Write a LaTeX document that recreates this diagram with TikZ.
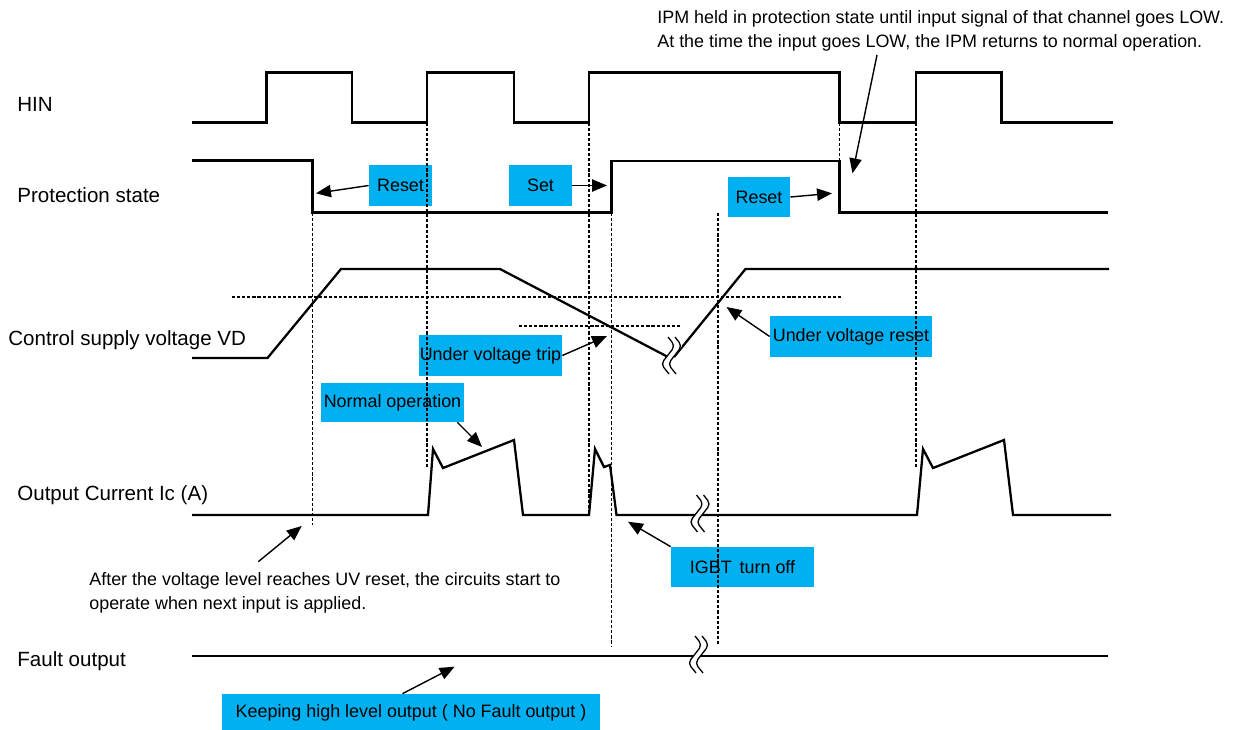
\documentclass[tikz,border=0pt]{standalone}
\usepackage{fontspec}
\setmainfont{Liberation Sans}
\usetikzlibrary{arrows.meta,calc}
\definecolor{cyanbox}{HTML}{00B0F0}
\newcommand\breakmark[2]{%
  \begin{scope}[shift={(#1,#2)}]
    \fill[white] (0,-20) -- (7,-11) -- (-7,7) -- (1,17) -- (8,17) -- (0,7) -- (14,-11) -- (7,-20) -- cycle;
    \draw[brk] (0,-20) -- (7,-11) -- (-7,7) -- (1,17);
    \draw[brk] (7,-20) -- (14,-11) -- (0,7) -- (8,17);
  \end{scope}}
\begin{document}
\begin{tikzpicture}[x=0.02cm,y=-0.02cm,
  wave/.style={line width=1.3pt, line join=miter},
  guide/.style={line width=0.6pt, dash pattern=on 1.8pt off 1.1pt},
  callout/.style={fill=cyanbox, inner sep=0pt, font=\fontsize{10.2}{12}\selectfont, text=black},
  pointer/.style={line width=0.8pt, -{Triangle[length=8.5pt,width=7pt]}},
  lbl/.style={anchor=base west, inner sep=0pt, font=\fontsize{11.7}{14}\selectfont},
  note/.style={anchor=base west, inner sep=0pt, font=\fontsize{10.2}{12}\selectfont},
  brk/.style={line width=0.75pt, rounded corners=2.5pt}
]
\useasboundingbox (0,0) rectangle (1237,730);

% callout boxes
\node[callout, minimum width=63*0.02cm, minimum height=41*0.02cm] (reset1) at (400.5,185.5) {Reset};
\node[callout, minimum width=63*0.02cm, minimum height=41*0.02cm] (set) at (540.5,185.5) {Set};
\node[callout, minimum width=62*0.02cm, minimum height=40*0.02cm] (reset2) at (759,197) {Reset};
\node[callout, minimum width=143*0.02cm, minimum height=41*0.02cm] (uvtrip) at (490.5,355.5) {Under voltage trip};
\node[callout, minimum width=143*0.02cm, minimum height=39*0.02cm] (normal) at (392.5,402.5) {Normal operation};
\node[callout, minimum width=162*0.02cm, minimum height=41*0.02cm] (uvreset) at (851,336.5) {Under voltage reset};
\node[callout, minimum width=143*0.02cm, minimum height=40*0.02cm] (igbt) at (742.5,567) {IGBT\, turn off};
\node[callout, minimum width=378*0.02cm, minimum height=37*0.02cm] (keep) at (411,712.5) {Keeping high level output ( No Fault output )};

% signal labels
\node[lbl] (lhin) at (17,111.5) {HIN};
\node[lbl] (lprot) at (17,202.5) {Protection state};
\node[lbl] (lvd) at (8,345) {Control supply voltage VD};
\node[lbl] (lic) at (17,500) {Output Current Ic (A)};
\node[lbl] (lfo) at (17,666) {Fault output};

% notes
\node[note] (top1) at (657,23) {IPM held in protection state until input signal of that channel goes LOW.};
\node[note] (top2) at (657,47) {At the time the input goes LOW, the IPM returns to normal operation.};
\node[note] (bot1) at (89,585) {After the voltage level reaches UV reset, the circuits start to};
\node[note] (bot2) at (89,609) {operate when next input is applied.};

% waveforms
\draw[wave] (192,122.5) -- (266.5,122.5) -- (266.5,72.5) -- (352,72.5) -- (352,122.5) -- (427,122.5) -- (427,72.5) -- (514,72.5) -- (514,122.5) -- (589,122.5) -- (589,72.5) -- (839.5,72.5) -- (839.5,122.5) -- (916,122.5) -- (916,72.5) -- (1001.5,72.5) -- (1001.5,122.5) -- (1113,122.5);
\draw[wave] (192,160.5) -- (312.5,160.5) -- (312.5,212.5) -- (611.5,212.5) -- (611.5,161) -- (839.5,161) -- (839.5,212.5) -- (1108,212.5);
\draw[wave] (192,358) -- (267.5,358) -- (341,269) -- (500,269) -- (668,357);
\draw[wave] (674,357) -- (745.5,269) -- (1109,269);
\draw[wave] (192,515) -- (428,515) -- (433,449) -- (443,468) -- (514,440) -- (523,515) -- (589,515) -- (595,449) -- (604,467) -- (610,465) -- (616.5,515) -- (917,515) -- (923,449) -- (933,468) -- (1004,440) -- (1013,515) -- (1111,515);
\draw[wave] (192,656) -- (1108,656);

% guides
\draw[guide] (312.5,212.5) -- (312.5,525);
\draw[guide] (427,122.5) -- (427,467);
\draw[guide] (589,122.5) -- (589,515);
\draw[guide] (611.5,212.5) -- (611.5,646);
\draw[guide] (718,213) -- (718,646);
\draw[guide] (839.5,122.5) -- (839.5,161);
\draw[guide] (916,122.5) -- (916,468);
\draw[guide] (232,297) -- (842,297);
\draw[guide] (519,326) -- (681,326);

% breaks
\breakmark{668}{357}
\breakmark{696.5}{515}
\breakmark{695}{656}

% pointers
\coordinate (tReset1) at (316,193.3);
\coordinate (tSet) at (607,185.5);
\coordinate (tReset2) at (832,193.3);
\coordinate (tTrip) at (607,336);
\coordinate (tNormal) at (482,447);
\coordinate (tUVreset) at (726.5,307);
\coordinate (tIgbt) at (628,521.7);
\coordinate (tKeep) at (454.6,666.7);
\coordinate (fTop) at (877,55);
\coordinate (tTop) at (852.5,173.3);
\coordinate (fBot) at (258.3,561.7);
\coordinate (tBot) at (301.7,526);

\draw[pointer] (reset1.west) -- (tReset1);
\draw[pointer] (set.east) -- (tSet);
\draw[pointer] (reset2.east) -- (tReset2);
\draw[pointer] (uvtrip.east) -- (tTrip);
\draw[pointer] ($(normal.south east)+(-7,0)$) -- (tNormal);
\draw[pointer] (uvreset.west) -- (tUVreset);
\draw[pointer] (igbt.north west) -- (tIgbt);
\draw[pointer] ($(keep.north)+(-8.5,0)$) -- (tKeep);
\draw[pointer] (fTop) -- (tTop);
\draw[pointer] (fBot) -- (tBot);
\end{tikzpicture}
\end{document}
